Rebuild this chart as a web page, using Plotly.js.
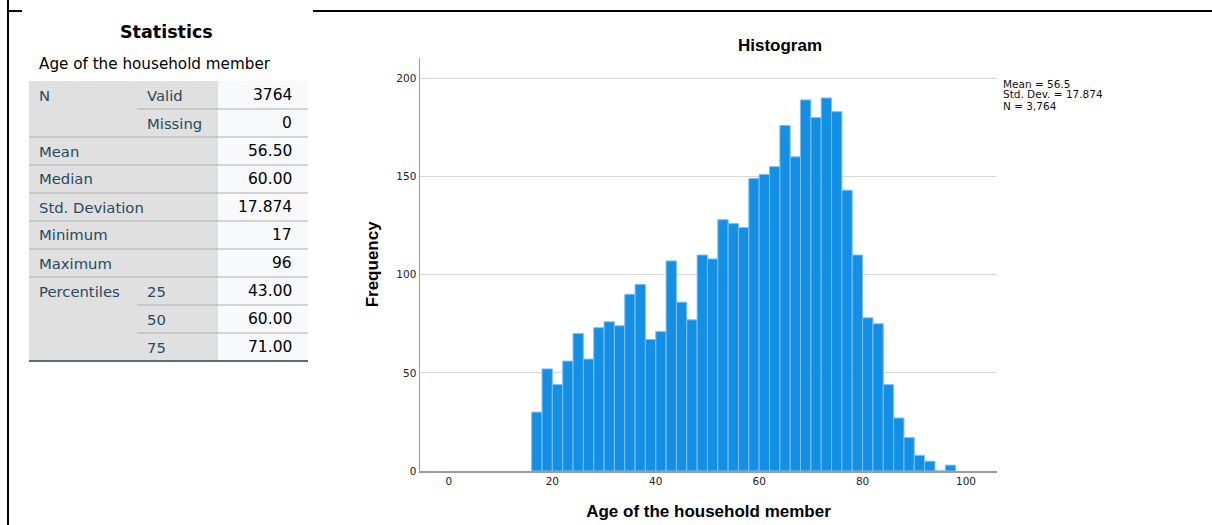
<!DOCTYPE html>
<html>
<head>
<meta charset="utf-8">
<script src="https://cdn.plot.ly/plotly-3.0.1.min.js"></script>
<style>html,body{margin:0;padding:0;background:#fff}#chart{width:1212px;height:525px}</style>
</head>
<body>
<div id="chart"></div>
<script>
// ---- Histogram data (2-year bins) ----
const binCenters = [17,19,21,23,25,27,29,31,33,35,37,39,41,43,45,47,49,51,53,55,57,59,61,63,65,67,69,71,73,75,77,79,81,83,85,87,89,91,93,95,97];
const frequencies = [30,52,44,56,70,57,73,76,74,90,95,67,71,107,86,77,110,108,128,126,124,149,151,155,176,160,189,180,190,183,143,110,78,75,44,27,17,8,5,0,3];
const xTickVals = [0,20,40,60,80,100];
const yTickVals = [0,50,100,150,200];
const histStats = ['Mean = 56.5','Std. Dev. = 17.874','N = 3,764'];

// ---- Statistics table ----
const tableTitle = 'Statistics';
const tableSubtitle = 'Age of the household member';
const statLabels = ['N','','Mean','Median','Std. Deviation','Minimum','Maximum','Percentiles','',''];
const statSubLabels = ['Valid','Missing','','','','','','25','50','75'];
const statValues = ['3764','0','56.50','60.00','17.874','17','96','43.00','60.00','71.00'];

const W = 1212, H = 525;
const px = x => x / W;
const py = y => 1 - y / H;

const shapes = [];
const annotations = [];

// outer frame lines
shapes.push({type:'line', xref:'paper', yref:'paper', x0:px(8), x1:px(8), y0:py(0), y1:py(525), line:{color:'#000', width:2}});
shapes.push({type:'line', xref:'paper', yref:'paper', x0:px(7), x1:px(22), y0:py(11), y1:py(11), line:{color:'#000', width:2}});
shapes.push({type:'line', xref:'paper', yref:'paper', x0:px(313), x1:px(1212), y0:py(11), y1:py(11), line:{color:'#000', width:2}});

// table geometry
const tLeft = 29, tSplit = 218, tRight = 308, tTop = 81, rowH = 28, subX = 137;
const nRows = statValues.length;
shapes.push({type:'rect', xref:'paper', yref:'paper', x0:px(tLeft), x1:px(tSplit), y0:py(tTop), y1:py(tTop + nRows*rowH), fillcolor:'#e0e0e0', line:{width:0}, layer:'below'});
shapes.push({type:'rect', xref:'paper', yref:'paper', x0:px(tSplit), x1:px(tRight), y0:py(tTop), y1:py(tTop + nRows*rowH), fillcolor:'#f8f9fa', line:{width:0}, layer:'below'});
for (let i = 0; i < nRows - 1; i++) {
  const yl = tTop + (i+1)*rowH;
  const full = statLabels[i+1] !== '';
  shapes.push({type:'line', xref:'paper', yref:'paper', x0:px(full ? tLeft : subX), x1:px(tRight), y0:py(yl), y1:py(yl), line:{color:'#aeaeae', width:1}});
}
shapes.push({type:'line', xref:'paper', yref:'paper', x0:px(tLeft), x1:px(tRight), y0:py(tTop + nRows*rowH), y1:py(tTop + nRows*rowH), line:{color:'#5b6b79', width:2}});

const tFont = 'DejaVu Sans';
annotations.push({xref:'paper', yref:'paper', x:px((tLeft+tRight)/2 - 2), y:py(32), text:'<b>'+tableTitle+'</b>', showarrow:false, xanchor:'center', yanchor:'middle', font:{family:tFont, size:17.5, color:'#000'}});
annotations.push({xref:'paper', yref:'paper', x:px(37), y:py(64), text:tableSubtitle, showarrow:false, xanchor:'left', yanchor:'middle', font:{family:tFont, size:15.2, color:'#000'}});
for (let i = 0; i < nRows; i++) {
  const yc = tTop + i*rowH + rowH/2;
  if (statLabels[i]) annotations.push({xref:'paper', yref:'paper', x:px(37), y:py(yc), text:statLabels[i], showarrow:false, xanchor:'left', yanchor:'middle', font:{family:tFont, size:14.8, color:'#264a60'}});
  if (statSubLabels[i]) annotations.push({xref:'paper', yref:'paper', x:px(145), y:py(yc), text:statSubLabels[i], showarrow:false, xanchor:'left', yanchor:'middle', font:{family:tFont, size:14.8, color:'#264a60'}});
  annotations.push({xref:'paper', yref:'paper', x:px(294), y:py(yc), text:statValues[i], showarrow:false, xanchor:'right', yanchor:'middle', font:{family:tFont, size:15.5, color:'#010205'}});
}

// histogram stats box
histStats.forEach((t, i) => {
  annotations.push({xref:'paper', yref:'paper', x:px(1001), y:py(83.5 + i*11), text:t, showarrow:false, xanchor:'left', yanchor:'middle', font:{family:'DejaVu Sans', size:10.5, color:'#111'}});
});

const trace = {
  type:'bar', x:binCenters, y:frequencies, width:2,
  marker:{color:'#1390e6', line:{color:'#7cc0f2', width:1}},
  hoverinfo:'x+y'
};

const layout = {
  width:W, height:H,
  margin:{l:0, r:0, t:0, b:0},
  paper_bgcolor:'#fff', plot_bgcolor:'#fff',
  showlegend:false,
  bargap:0,
  title:{text:'<b>Histogram</b>', xref:'paper', yref:'paper', x:px(780), y:py(45), xanchor:'center', yanchor:'middle', font:{family:'Liberation Sans', size:17, color:'#000'}},
  xaxis:{
    domain:[px(420), px(997)], range:[-5.6, 106],
    tickvals:xTickVals, ticks:'', showgrid:false, zeroline:false,
    showline:true, linecolor:'#9c9c9c', linewidth:1.5,
    tickfont:{family:'DejaVu Sans', size:10.5, color:'#222'},
    title:{text:'<b>Age of the household member</b>', standoff:19, font:{family:'Liberation Sans', size:17, color:'#000'}},
    automargin:false
  },
  yaxis:{
    domain:[py(471), py(57.7)], range:[0, 210.5],
    tickvals:yTickVals, ticks:'', zeroline:false,
    showgrid:true, gridcolor:'#d8d8d8', gridwidth:1.3,
    showline:true, linecolor:'#9c9c9c', linewidth:1.5,
    tickfont:{family:'DejaVu Sans', size:10.5, color:'#222'},
    title:{text:'<b>Frequency</b>', standoff:13, font:{family:'Liberation Sans', size:17, color:'#000'}},
    automargin:false
  },
  shapes:shapes,
  annotations:annotations
};

Plotly.newPlot('chart', [trace], layout, {displayModeBar:false, staticPlot:true});
</script>
</body>
</html>
